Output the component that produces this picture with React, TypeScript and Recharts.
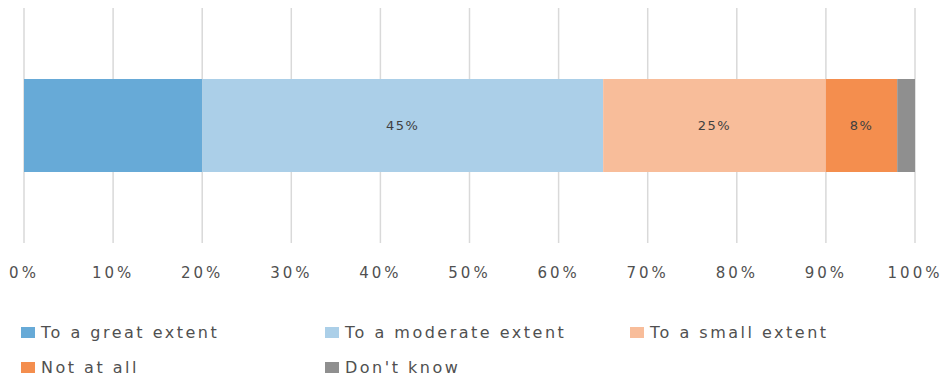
import { BarChart, Bar, XAxis, YAxis, CartesianGrid, LabelList } from 'recharts';

const categories = ['All respondents'];
const seriesNames = ['To a great extent', 'To a moderate extent', 'To a small extent', 'Not at all', "Don't know"];
const greatValues = [20];
const moderateValues = [45];
const smallValues = [25];
const notAtAllValues = [8];
const dontKnowValues = [2];
const labelledSeries = ['To a moderate extent', 'To a small extent', 'Not at all'];
const xTicks = [0, 10, 20, 30, 40, 50, 60, 70, 80, 90, 100];

const COLORS = ['#67aad7', '#abcfe8', '#f8bd9a', '#f48e4e', '#8f8f8f'];
const FONT = '"DejaVu Sans", sans-serif';

const seriesValues = [greatValues, moderateValues, smallValues, notAtAllValues, dontKnowValues];

const data = categories.map((cat, i) => {
  const row: Record<string, string | number> = { category: cat };
  seriesNames.forEach((name, s) => {
    row[name] = seriesValues[s][i];
  });
  return row;
});

// legend sits under the axis in three columns, like the original export
function ChartLegend() {
  return (
    <div
      style={{
        position: 'absolute',
        left: 21,
        top: 321,
        display: 'grid',
        gridTemplateColumns: '304px 305px 300px',
        rowGap: 13,
        fontFamily: FONT,
        fontSize: 16,
        letterSpacing: 2.5,
        color: '#505050',
      }}
    >
      {seriesNames.map((name, i) => (
        <div key={name} style={{ display: 'flex', alignItems: 'center', height: 22 }}>
          <span
            style={{
              display: 'inline-block',
              width: 14,
              height: 11,
              background: COLORS[i],
              marginRight: 6,
            }}
          />
          <span>{name}</span>
        </div>
      ))}
    </div>
  );
}

export default function App() {
  return (
    <div style={{ position: 'absolute', left: 0, top: 0, width: 948, height: 375, background: '#fff' }}>
      <BarChart
        width={948}
        height={375}
        data={data}
        layout="vertical"
        margin={{ top: 8, right: 33, left: 24, bottom: 102 }}
      >
        <CartesianGrid horizontal={false} stroke="#d9d9d9" strokeWidth={1.5} />
        <XAxis
          type="number"
          domain={[0, 100]}
          ticks={xTicks}
          tickFormatter={(v: number) => `${v}%`}
          axisLine={false}
          tickLine={false}
          tickMargin={18}
          interval={0}
          height={30}
          tick={{ fontFamily: FONT, fontSize: 15, fill: '#505050', letterSpacing: 3 }}
        />
        <YAxis type="category" dataKey="category" hide />
        {seriesNames.map((name, i) => (
          <Bar
            key={name}
            dataKey={name}
            stackId="a"
            fill={COLORS[i]}
            barSize={93}
            isAnimationActive={false}
          >
            {labelledSeries.includes(name) && (
              <LabelList
                dataKey={name}
                position="center"
                formatter={(v: any) => `${v}%`}
                style={{ fontFamily: FONT, fontSize: 13, fill: '#404040', letterSpacing: 1.5 }}
              />
            )}
          </Bar>
        ))}
      </BarChart>
      <ChartLegend />
    </div>
  );
}
